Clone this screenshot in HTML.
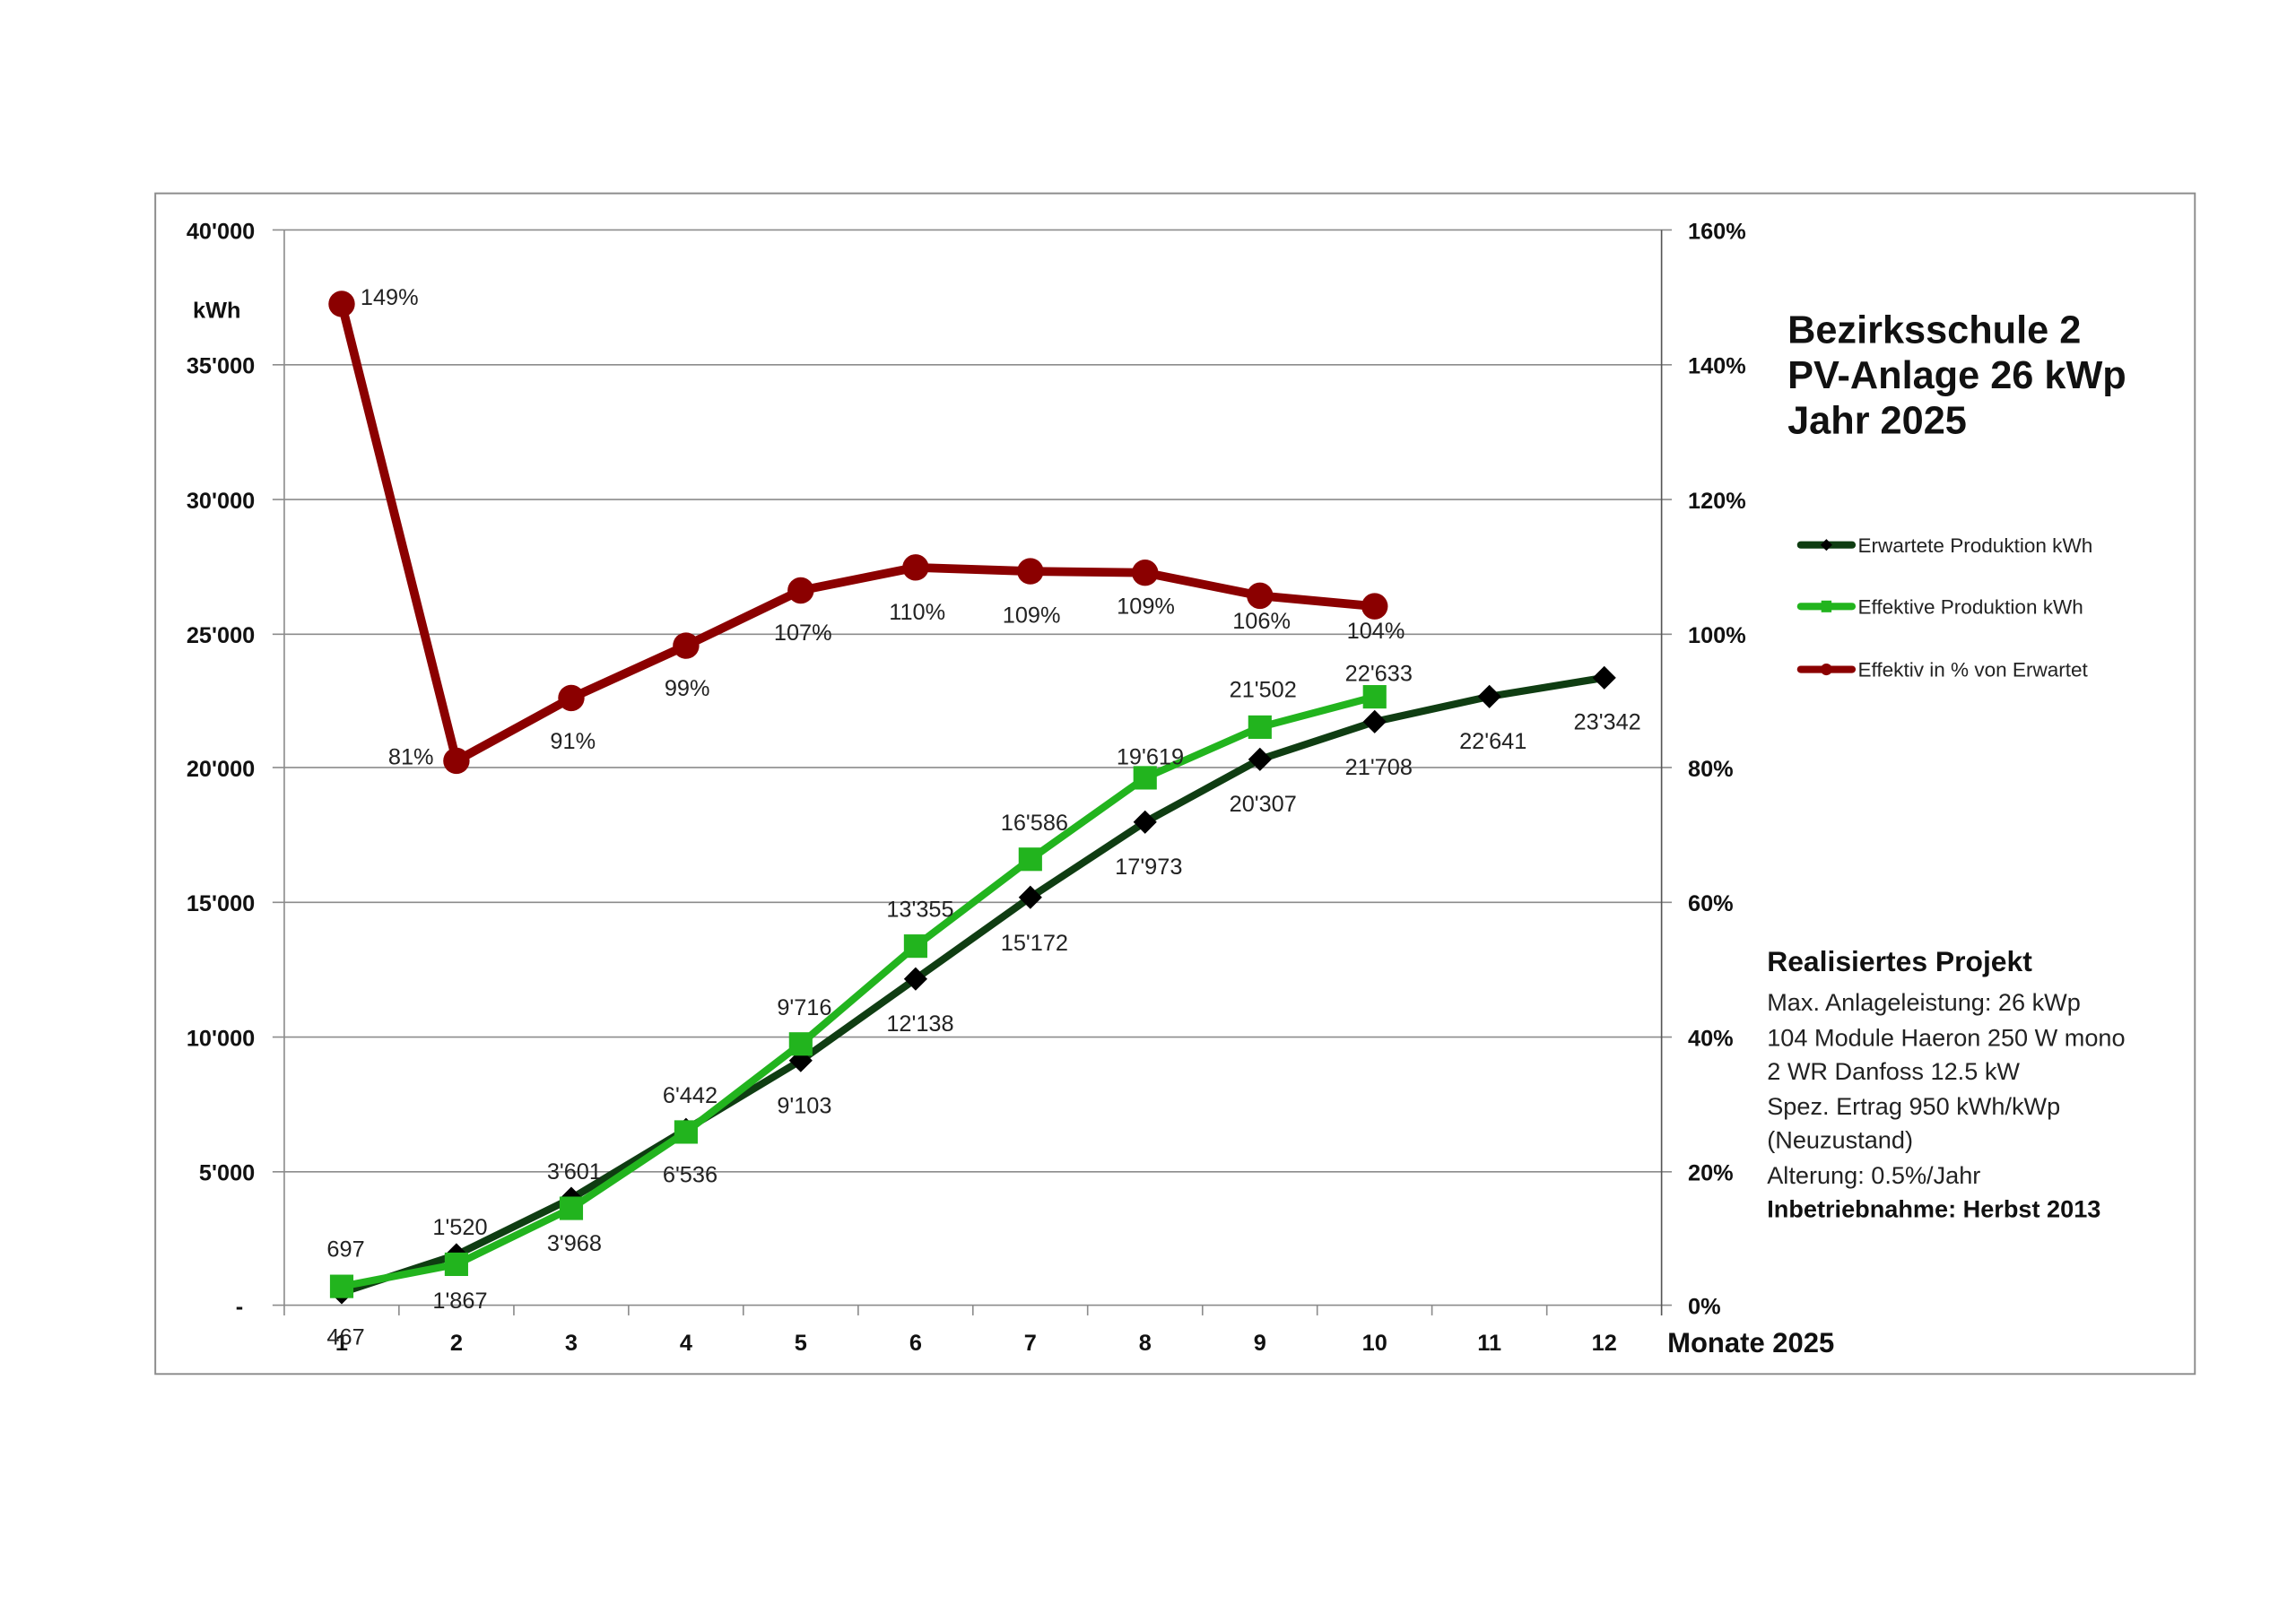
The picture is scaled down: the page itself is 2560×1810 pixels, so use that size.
<!DOCTYPE html>
<html><head><meta charset="utf-8"><style>html,body{margin:0;padding:0;background:#fff}svg{display:block}</style></head>
<body>
<svg width="2560" height="1810" viewBox="0 0 1567 1108" preserveAspectRatio="none" xmlns="http://www.w3.org/2000/svg" font-family="'Liberation Sans', sans-serif">
<rect x="0" y="0" width="1567" height="1108" fill="#fff"/>
<rect x="106" y="132" width="1392" height="806" fill="#fff" stroke="#8c8c8c" stroke-width="1.2"/>
<g stroke="#8c8c8c" stroke-width="1">
<line x1="186" y1="157" x2="1141" y2="157"/>
<line x1="186" y1="249" x2="1141" y2="249"/>
<line x1="186" y1="341" x2="1141" y2="341"/>
<line x1="186" y1="433" x2="1141" y2="433"/>
<line x1="186" y1="524" x2="1141" y2="524"/>
<line x1="186" y1="616" x2="1141" y2="616"/>
<line x1="186" y1="708" x2="1141" y2="708"/>
<line x1="186" y1="800" x2="1141" y2="800"/>
<line x1="186" y1="891" x2="1141" y2="891"/>
<line x1="194" y1="157" x2="194" y2="898"/>
<line x1="1134" y1="157" x2="1134" y2="898" stroke="#555"/>
</g>
<g stroke="#8c8c8c" stroke-width="1">
<line x1="272.3" y1="891" x2="272.3" y2="898"/><line x1="350.7" y1="891" x2="350.7" y2="898"/><line x1="429" y1="891" x2="429" y2="898"/><line x1="507.3" y1="891" x2="507.3" y2="898"/><line x1="585.7" y1="891" x2="585.7" y2="898"/><line x1="664" y1="891" x2="664" y2="898"/><line x1="742.3" y1="891" x2="742.3" y2="898"/><line x1="820.7" y1="891" x2="820.7" y2="898"/><line x1="899" y1="891" x2="899" y2="898"/><line x1="977.3" y1="891" x2="977.3" y2="898"/><line x1="1055.7" y1="891" x2="1055.7" y2="898"/>
</g>
<g font-size="15.5" font-weight="bold" fill="#111" text-anchor="end">
<text x="174" y="163">40'000</text><text x="174" y="255">35'000</text><text x="174" y="347">30'000</text><text x="174" y="439">25'000</text><text x="174" y="530">20'000</text><text x="174" y="622">15'000</text><text x="174" y="714">10'000</text><text x="174" y="806">5'000</text><text x="166" y="897">-</text>
</g>
<text x="148" y="217" font-size="15.5" font-weight="bold" text-anchor="middle" fill="#111">kWh</text>
<g font-size="15.5" font-weight="bold" fill="#111">
<text x="1152" y="163">160%</text><text x="1152" y="255">140%</text><text x="1152" y="347">120%</text><text x="1152" y="439">100%</text><text x="1152" y="530">80%</text><text x="1152" y="622">60%</text><text x="1152" y="714">40%</text><text x="1152" y="806">20%</text><text x="1152" y="897">0%</text>
</g>
<g font-size="15.5" font-weight="bold" fill="#111" text-anchor="middle">
<text x="233.2" y="922">1</text><text x="311.5" y="922">2</text><text x="389.9" y="922">3</text><text x="468.2" y="922">4</text><text x="546.5" y="922">5</text><text x="624.9" y="922">6</text><text x="703.2" y="922">7</text><text x="781.5" y="922">8</text><text x="859.9" y="922">9</text><text x="938.2" y="922">10</text><text x="1016.5" y="922">11</text><text x="1094.9" y="922">12</text>
</g>
<text x="1138" y="923" font-size="19" font-weight="bold" fill="#111">Monate 2025</text>

<polyline fill="none" stroke="#0f3d12" stroke-width="5" stroke-linejoin="round" points="233.2,882.4 311.5,856.7 389.9,818.2 468.2,771.1 546.5,724 624.9,668.3 703.2,612.6 781.5,561.2 859.9,518.4 938.2,492.7 1016.5,475.5 1094.9,462.7"/>
<g fill="#000">
<path d="M233.2 874.4l8 8-8 8-8-8z"/><path d="M311.5 848.7l8 8-8 8-8-8z"/><path d="M389.9 810.2l8 8-8 8-8-8z"/><path d="M468.2 763.1l8 8-8 8-8-8z"/><path d="M546.5 716l8 8-8 8-8-8z"/><path d="M624.9 660.3l8 8-8 8-8-8z"/><path d="M703.2 604.6l8 8-8 8-8-8z"/><path d="M781.5 553.2l8 8-8 8-8-8z"/><path d="M859.9 510.4l8 8-8 8-8-8z"/><path d="M938.2 484.7l8 8-8 8-8-8z"/><path d="M1016.5 467.5l8 8-8 8-8-8z"/><path d="M1094.9 454.7l8 8-8 8-8-8z"/>
</g>
<polyline fill="none" stroke="#22b41e" stroke-width="5" stroke-linejoin="round" points="233.2,878.2 311.5,863.1 389.9,824.9 468.2,772.8 546.5,712.7 624.9,645.9 703.2,586.6 781.5,531 859.9,496.4 938.2,475.7"/>
<g fill="#22b41e">
<rect x="225.2" y="870.2" width="16" height="16"/><rect x="303.5" y="855.1" width="16" height="16"/><rect x="381.9" y="816.9" width="16" height="16"/><rect x="460.2" y="764.8" width="16" height="16"/><rect x="538.5" y="704.7" width="16" height="16"/><rect x="616.9" y="637.9" width="16" height="16"/><rect x="695.2" y="578.6" width="16" height="16"/><rect x="773.5" y="523" width="16" height="16"/><rect x="851.9" y="488.4" width="16" height="16"/><rect x="930.2" y="467.7" width="16" height="16"/>
</g>
<polyline fill="none" stroke="#8b0000" stroke-width="6" stroke-linejoin="round" points="233.2,207.5 311.5,519.4 389.9,476.5 468.2,440.8 546.5,403.1 624.9,387.4 703.2,390 781.5,391 859.9,406.7 938.2,413.9"/>
<g fill="#8b0000">
<circle cx="233.2" cy="207.5" r="9"/><circle cx="311.5" cy="519.4" r="9"/><circle cx="389.9" cy="476.5" r="9"/><circle cx="468.2" cy="440.8" r="9"/><circle cx="546.5" cy="403.1" r="9"/><circle cx="624.9" cy="387.4" r="9"/><circle cx="703.2" cy="390" r="9"/><circle cx="781.5" cy="391" r="9"/><circle cx="859.9" cy="406.7" r="9"/><circle cx="938.2" cy="413.9" r="9"/>
</g>
<g font-size="15.5" fill="#222" text-anchor="middle">
<text x="246" y="208" text-anchor="start">149%</text>
<text x="296" y="522" text-anchor="end">81%</text>
<text x="391" y="511">91%</text><text x="469" y="475">99%</text><text x="548" y="437">107%</text><text x="626" y="423">110%</text><text x="704" y="425">109%</text><text x="782" y="419">109%</text><text x="861" y="429">106%</text><text x="939" y="436">104%</text>
<text x="236" y="858">697</text><text x="314" y="843">1'520</text><text x="392" y="805">3'601</text><text x="471" y="753">6'442</text><text x="549" y="693">9'716</text><text x="628" y="626">13'355</text><text x="706" y="567">16'586</text><text x="785" y="522">19'619</text><text x="862" y="476">21'502</text><text x="941" y="465">22'633</text>
<text x="236" y="918">467</text><text x="314" y="893">1'867</text><text x="392" y="854">3'968</text><text x="471" y="807">6'536</text><text x="549" y="760">9'103</text><text x="628" y="704">12'138</text><text x="706" y="649">15'172</text><text x="784" y="597">17'973</text><text x="862" y="554">20'307</text><text x="941" y="529">21'708</text><text x="1019" y="511">22'641</text><text x="1097" y="498">23'342</text>
</g>
<g font-size="26.5" font-weight="bold" fill="#111">
<text x="1220" y="234">Bezirksschule 2</text><text x="1220" y="265">PV-Anlage 26 kWp</text><text x="1220" y="296">Jahr 2025</text>
</g>
<g stroke-width="5" stroke-linecap="round">
<line x1="1229" y1="372" x2="1264" y2="372" stroke="#0f3d12"/><line x1="1229" y1="414" x2="1264" y2="414" stroke="#22b41e"/><line x1="1229" y1="457" x2="1264" y2="457" stroke="#8b0000"/>
</g>
<path d="M1246.5 368l4 4-4 4-4-4z" fill="#000"/><rect x="1243" y="410" width="7" height="8" fill="#22b41e"/><circle cx="1246.5" cy="457" r="4" fill="#8b0000"/>
<g font-size="13.8" fill="#222">
<text x="1268" y="377">Erwartete Produktion kWh</text><text x="1268" y="419">Effektive Produktion kWh</text><text x="1268" y="462">Effektiv in % von Erwartet</text>
</g>
<text x="1206" y="663" font-size="19.5" font-weight="bold" fill="#111">Realisiertes Projekt</text>
<g font-size="16.6" fill="#222">
<text x="1206" y="690">Max. Anlageleistung: 26 kWp</text><text x="1206" y="714">104 Module Haeron 250 W mono</text><text x="1206" y="737">2 WR Danfoss 12.5 kW</text><text x="1206" y="761">Spez. Ertrag 950 kWh/kWp</text><text x="1206" y="784">(Neuzustand)</text><text x="1206" y="808">Alterung: 0.5%/Jahr</text>
<text x="1206" y="831" font-weight="bold" fill="#111">Inbetriebnahme: Herbst 2013</text>
</g>
</svg>
</body></html>
